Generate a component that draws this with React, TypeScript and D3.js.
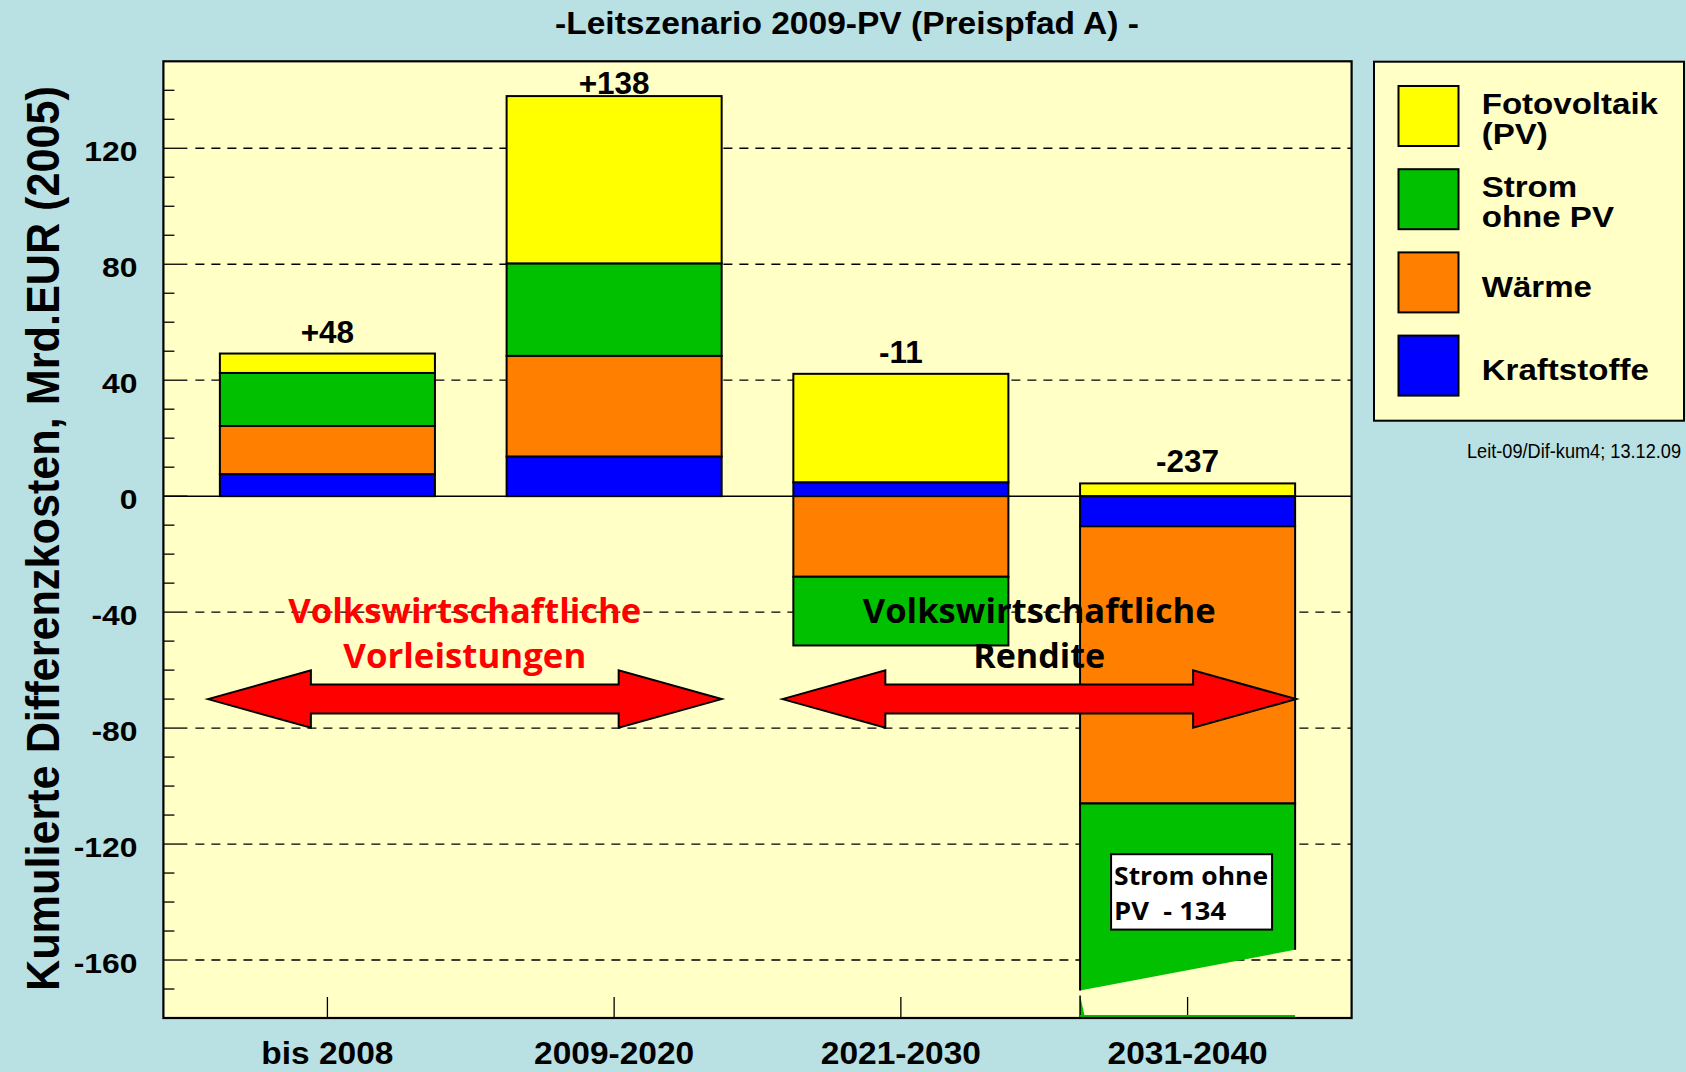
import React, { useRef, useEffect } from "react";
import * as d3 from "d3";

// values (Mrd. EUR 2005, cumulated)
const categories = ["bis 2008", "2009-2020", "2021-2030", "2031-2040"];
const kraftstoffe = [7.6, 13.7, 4.8, -10.4];
const waerme = [16.6, 34.7, -27.8, -95.6];
const stromOhnePV = [18.3, 31.9, -23.7, -134];
const fotovoltaik = [6.7, 57.7, 37.4, 4.4];
const totalLabels = ["+48", "+138", "-11", "-237"];
const yTickValues = [120, 80, 40, 0, -40, -80, -120, -160];

const seriesKeys = ["kraftstoffe", "waerme", "strom", "pv"];
const colors: Record<string, string> = {
  kraftstoffe: "#0000FF",
  waerme: "#FF8000",
  strom: "#00C000",
  pv: "#FFFF00",
};
const legendItems = [
  { key: "pv", lines: ["Fotovoltaik", "(PV)"] },
  { key: "strom", lines: ["Strom", "ohne PV"] },
  { key: "waerme", lines: ["Wärme"] },
  { key: "kraftstoffe", lines: ["Kraftstoffe"] },
];

const W = 1686;
const H = 1072;
const BG = "#B9E0E3";
const PLOT_BG = "#FFFFC6";
const ARIAL = "'Liberation Sans', Arial, sans-serif";
const SEGOE = "'Open Sans', 'Noto Sans', sans-serif";

// axis break on the clipped bar
const BREAK_LEFT = -170.5;
const BREAK_RIGHT = -156.5;
const ARROW_LEVEL = -70;

function stretch(sel: any, f: number) {
  sel.each(function (this: SVGTextElement) {
    const len = this.getComputedTextLength();
    d3.select(this).attr("textLength", len * f).attr("lengthAdjust", "spacingAndGlyphs");
  });
}

export default function App() {
  const ref = useRef<SVGSVGElement>(null);

  useEffect(() => {
    const svg = d3.select(ref.current);
    svg.selectAll("*").remove();

    const left = 163.4, right = 1351.6, top = 61.3, bottom = 1018;

    const x = d3.scaleBand().domain(categories).range([left, right])
      .paddingInner(0.25).paddingOuter(0.197);
    const y = d3.scaleLinear().domain([-180, 150]).range([bottom, top]);
    const bw = x.bandwidth();

    const rows = categories.map((c, i) => ({
      cat: c,
      kraftstoffe: kraftstoffe[i],
      waerme: waerme[i],
      strom: stromOhnePV[i],
      pv: fotovoltaik[i],
    }));
    const stacked = d3.stack<any>().keys(seriesKeys).offset(d3.stackOffsetDiverging)(rows);

    svg.append("rect").attr("width", W).attr("height", H).attr("fill", BG);
    svg.append("rect").attr("x", left).attr("y", top)
      .attr("width", right - left).attr("height", bottom - top).attr("fill", PLOT_BG);

    // dashed grid
    svg.append("g").selectAll("line")
      .data(yTickValues.filter(d => d !== 0))
      .enter().append("line")
      .attr("x1", left + 32).attr("x2", right)
      .attr("y1", d => y(d)).attr("y2", d => y(d))
      .attr("stroke", "#000").attr("stroke-width", 1.3)
      .attr("stroke-dasharray", "9,7");

    // left ticks
    const minor = d3.range(-170, 150, 10);
    svg.append("g").selectAll("line")
      .data(minor)
      .enter().append("line")
      .attr("x1", left).attr("x2", d => (d % 40 === 0 ? left + 24 : left + 11))
      .attr("y1", d => y(d)).attr("y2", d => y(d))
      .attr("stroke", "#000").attr("stroke-width", 1.3);

    // bottom ticks
    svg.append("g").selectAll("line")
      .data(categories)
      .enter().append("line")
      .attr("x1", d => x(d)! + bw / 2).attr("x2", d => x(d)! + bw / 2)
      .attr("y1", bottom).attr("y2", bottom - 21)
      .attr("stroke", "#000").attr("stroke-width", 1.3);

    // bars
    const yMin = y.domain()[0];
    stacked.forEach(s => {
      const g = svg.append("g");
      s.forEach((d: any) => {
        const x0 = x(d.data.cat)!;
        const x1 = x0 + bw;
        const lo = Math.min(d[0], d[1]);
        const hi = Math.max(d[0], d[1]);
        if (hi === lo) return;
        if (lo < yMin) {
          g.append("polygon")
            .attr("points", [[x0, y(hi)], [x1, y(hi)], [x1, y(BREAK_RIGHT)], [x0, y(BREAK_LEFT)]].join(" "))
            .attr("fill", colors[s.key]);
          g.append("polyline")
            .attr("points", [[x0, y(BREAK_LEFT)], [x0, y(hi)], [x1, y(hi)], [x1, y(BREAK_RIGHT)]].join(" "))
            .attr("fill", "none").attr("stroke", "#000").attr("stroke-width", 2);
          g.append("polygon")
            .attr("points", [[x0, y(BREAK_LEFT) + 5], [x0 + 5, bottom], [x0, bottom]].join(" "))
            .attr("fill", colors[s.key]);
          g.append("line").attr("x1", x0).attr("x2", x0)
            .attr("y1", y(BREAK_LEFT) + 5).attr("y2", bottom)
            .attr("stroke", "#000").attr("stroke-width", 1.5);
          g.append("rect").attr("x", x0).attr("y", bottom - 3).attr("width", bw).attr("height", 2)
            .attr("fill", colors[s.key]);
        } else {
          g.append("rect")
            .attr("x", x0).attr("y", y(hi))
            .attr("width", bw).attr("height", y(lo) - y(hi))
            .attr("fill", colors[s.key]).attr("stroke", "#000").attr("stroke-width", 2);
        }
      });
    });

    // zero line + frame
    svg.append("line").attr("x1", left).attr("x2", right)
      .attr("y1", y(0)).attr("y2", y(0)).attr("stroke", "#000").attr("stroke-width", 1.5);
    svg.append("rect").attr("x", left).attr("y", top)
      .attr("width", right - left).attr("height", bottom - top)
      .attr("fill", "none").attr("stroke", "#000").attr("stroke-width", 2.2);

    // total labels, kept inside the frame
    const totals = categories.map((c, i) => {
      const vals = [kraftstoffe[i], waerme[i], stromOhnePV[i], fotovoltaik[i]];
      return d3.sum(vals.filter(v => v > 0));
    });
    svg.append("g").selectAll("text")
      .data(categories)
      .enter().append("text")
      .attr("x", d => x(d)! + bw / 2)
      .attr("y", (d, i) => Math.max(y(totals[i]) - 11, top + 33))
      .attr("text-anchor", "middle")
      .style("font", `bold 31.5px ${ARIAL}`)
      .text((d, i) => totalLabels[i]);

    // y tick labels
    const yl = svg.append("g").selectAll("text")
      .data(yTickValues)
      .enter().append("text")
      .attr("x", 137.5).attr("y", d => y(d) + 13)
      .attr("text-anchor", "end")
      .style("font", `bold 27px ${ARIAL}`)
      .text(d => d);
    stretch(yl, 1.18);

    // x labels
    const xl = svg.append("g").selectAll("text")
      .data(categories)
      .enter().append("text")
      .attr("x", d => x(d)! + bw / 2).attr("y", 1064)
      .attr("text-anchor", "middle")
      .style("font", `bold 31px ${ARIAL}`)
      .text(d => d);
    stretch(xl, 1.08);

    // title
    svg.append("text").attr("x", 847).attr("y", 34).attr("text-anchor", "middle")
      .style("font", `bold 30.5px ${ARIAL}`)
      .attr("textLength", 584).attr("lengthAdjust", "spacingAndGlyphs")
      .text("-Leitszenario 2009-PV (Preispfad A) -");

    // y axis title
    svg.append("text").attr("transform", "translate(58.5,538.5) rotate(-90)")
      .attr("text-anchor", "middle")
      .style("font", `bold 46px ${ARIAL}`)
      .attr("textLength", 905).attr("lengthAdjust", "spacingAndGlyphs")
      .text("Kumulierte Differenzkosten, Mrd.EUR (2005)");

    // double arrows
    const yc = y(ARROW_LEVEL);
    const arrow = (xl0: number, xr0: number) => {
      const hl = 103, hh = 28.7, sh = 14.5;
      const pts = [
        [xl0, yc], [xl0 + hl, yc - hh], [xl0 + hl, yc - sh], [xr0 - hl, yc - sh], [xr0 - hl, yc - hh],
        [xr0, yc], [xr0 - hl, yc + hh], [xr0 - hl, yc + sh], [xl0 + hl, yc + sh], [xl0 + hl, yc + hh],
      ];
      svg.append("polygon").attr("points", pts.join(" "))
        .attr("fill", "#FF0000").attr("stroke", "#000").attr("stroke-width", 2);
      return (xl0 + xr0) / 2;
    };
    const c1 = arrow(x(categories[0])! - 12, x(categories[1])! + bw);
    const c2 = arrow(x(categories[2])! - 11, x(categories[3])! + bw + 1);

    const midText = (cx: number, lines: string[], lens: number[], fill: string) => {
      lines.forEach((t, i) => {
        svg.append("text").attr("x", cx).attr("y", yc - 76 + i * 44.5)
          .attr("text-anchor", "middle").attr("fill", fill)
          .style("font", `bold 34px ${SEGOE}`)
          .attr("textLength", lens[i]).attr("lengthAdjust", "spacingAndGlyphs")
          .text(t);
      });
    };
    midText(c1, ["Volkswirtschaftliche", "Vorleistungen"], [353, 243], "#FF0000");
    midText(c2, ["Volkswirtschaftliche", "Rendite"], [353, 132], "#000");

    // annotation box in the clipped bar
    const bx = x(categories[3])! + 31;
    const by0 = y(-123.5), by1 = y(-149.5);
    svg.append("rect").attr("x", bx).attr("y", by0).attr("width", 161).attr("height", by1 - by0)
      .attr("fill", "#fff").attr("stroke", "#000").attr("stroke-width", 2);
    [["Strom ohne", 154], ["PV  - 134", 112]].forEach(([t, len], i) => {
      svg.append("text").attr("x", bx + 3).attr("y", by0 + 31 + i * 35)
        .style("font", `bold 25px ${SEGOE}`).style("white-space", "pre")
        .attr("textLength", len as number).attr("lengthAdjust", "spacingAndGlyphs")
        .text(t as string);
    });

    // legend
    const lg = svg.append("g");
    lg.append("rect").attr("x", 1374).attr("y", 61.7).attr("width", 310).attr("height", 359)
      .attr("fill", PLOT_BG).attr("stroke", "#000").attr("stroke-width", 2);
    legendItems.forEach((it, i) => {
      const sy = 86 + i * 83.2;
      lg.append("rect").attr("x", 1398.5).attr("y", sy).attr("width", 60).attr("height", 60)
        .attr("fill", colors[it.key]).attr("stroke", "#000").attr("stroke-width", 2);
      const cy = sy + 30;
      const ys = it.lines.length === 1 ? [cy + 14.5] : [cy - 2, cy + 28];
      it.lines.forEach((ln, j) => {
        const t = lg.append("text").attr("x", 1481.7).attr("y", ys[j])
          .style("font", `bold 29px ${ARIAL}`).text(ln);
        stretch(t, 1.14);
      });
    });

    svg.append("text").attr("x", 1681).attr("y", 458).attr("text-anchor", "end")
      .style("font", `19.5px ${ARIAL}`)
      .attr("textLength", 214).attr("lengthAdjust", "spacingAndGlyphs")
      .text("Leit-09/Dif-kum4; 13.12.09");
  }, []);

  return (
    <svg ref={ref} width={W} height={H}
      style={{ position: "absolute", left: 0, top: 0, display: "block" }} />
  );
}
